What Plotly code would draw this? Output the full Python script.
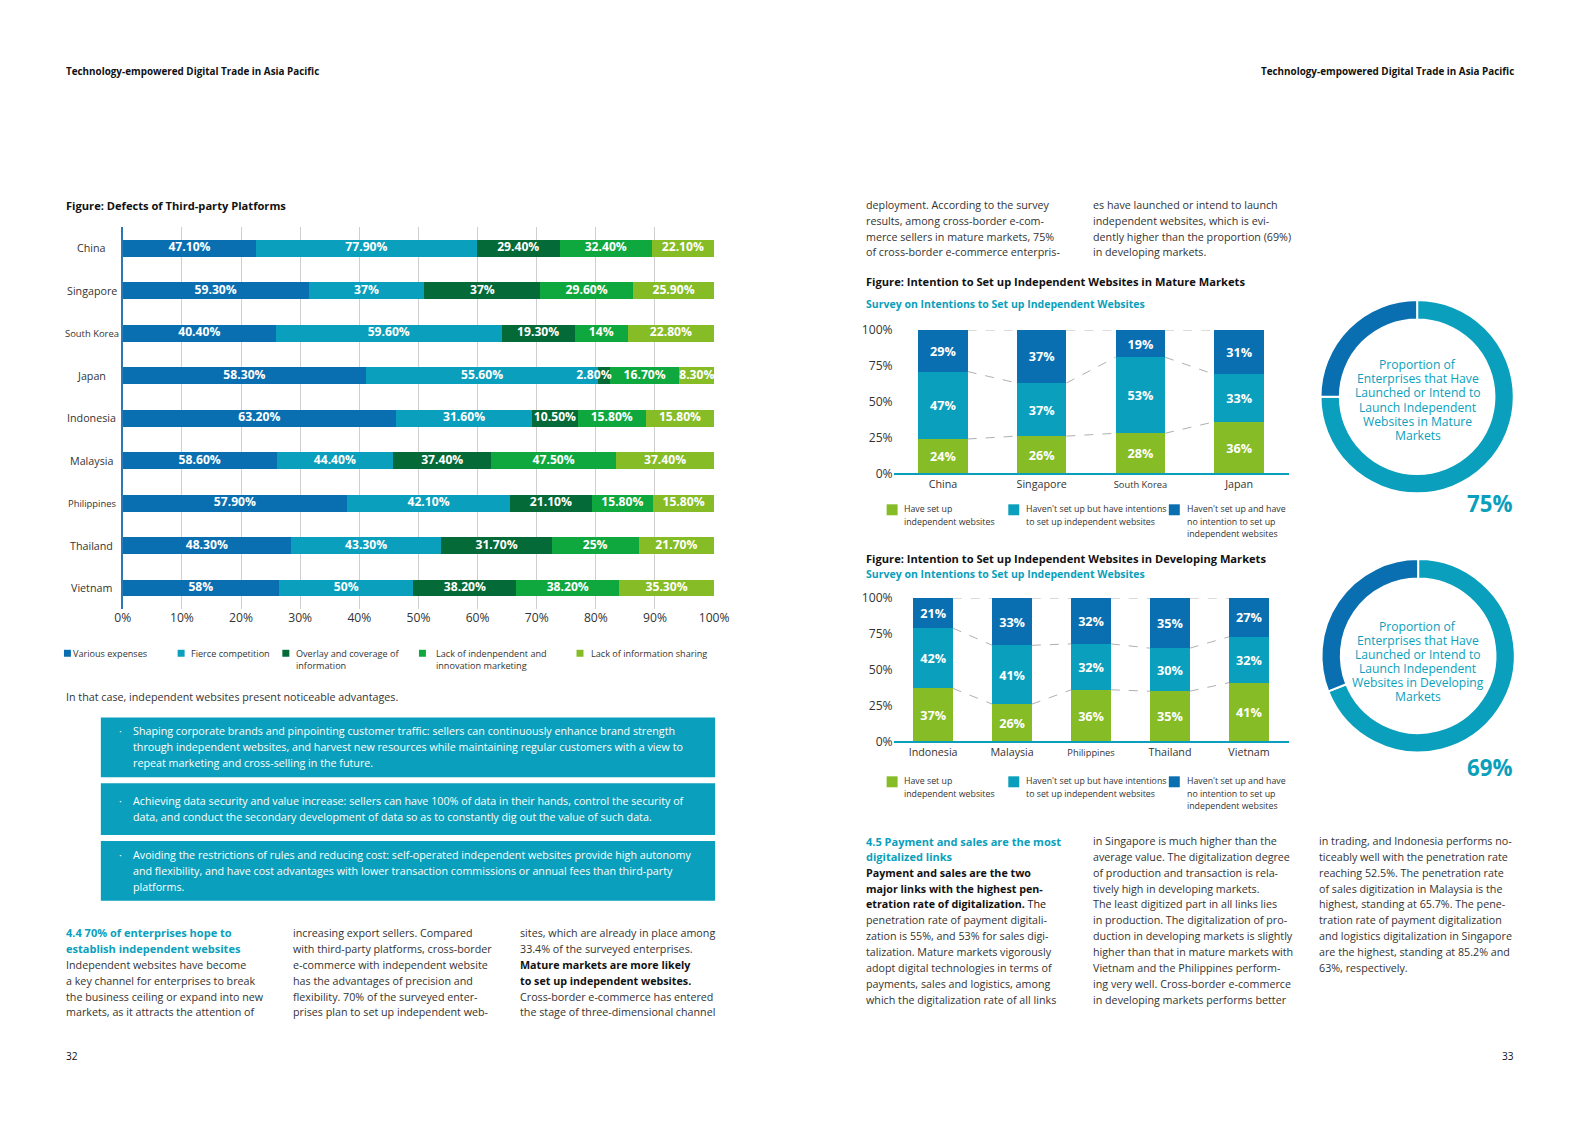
import numpy as np
import plotly.graph_objects as go

# page size; the browser body keeps its default 8px margin round the figure
PW, PH = 1587, 1122
M = 8
FW, FH = PW - 2 * M, 1100
K = 1.012          # layout measurements were taken at 0.988 scale
FONT = "Open Sans"

# ---------------- data ----------------
countries_h = ["China", "Singapore", "South Korea", "Japan", "Indonesia",
               "Malaysia", "Philippines", "Thailand", "Vietnam"]
various_expenses = [47.1, 59.3, 40.4, 58.3, 63.2, 58.6, 57.9, 48.3, 58]
fierce_competition = [77.9, 37, 59.6, 55.6, 31.6, 44.4, 42.1, 43.3, 50]
overlay_coverage = [29.4, 37, 19.3, 2.8, 10.5, 37.4, 21.1, 31.7, 38.2]
lack_independent = [32.4, 29.6, 14, 16.7, 15.8, 47.5, 15.8, 25, 38.2]
lack_sharing = [22.1, 25.9, 22.8, 8.3, 15.8, 37.4, 15.8, 21.7, 35.3]
h_series_names = ["Various expenses", "Fierce competition",
                  "Overlay and coverage of<br>information",
                  "Lack of indenpendent and<br>innovation marketing",
                  "Lack of information sharing"]
h_ticks = [0, 10, 20, 30, 40, 50, 60, 70, 80, 90, 100]

mature_markets = ["China", "Singapore", "South Korea", "Japan"]
mature_have = [24, 26, 28, 36]
mature_intend = [47, 37, 53, 33]
mature_no = [29, 37, 19, 31]

developing_markets = ["Indonesia", "Malaysia", "Philippines", "Thailand", "Vietnam"]
developing_have = [37, 26, 36, 35, 41]
developing_intend = [42, 41, 32, 30, 32]
developing_no = [21, 33, 32, 35, 27]
v_series_names = ["Have set up<br>independent websites",
                  "Haven't set up but have intentions<br>to set up independent websites",
                  "Haven't set up and have<br>no intention to set up<br>independent websites"]
v_ticks = [0, 25, 50, 75, 100]

mature_share = [75, 25]
developing_share = [69, 31]
share_labels = ["Launched or intend to launch", "No intention"]

# ---------------- colours ----------------
C_BLUE = "#0a6fb0"
C_TEAL = "#0a9fbc"
C_DKGREEN = "#046a38"
C_GREEN = "#0fa83e"
C_LTGREEN = "#86bc25"
TXT = "#333333"

h_colors = [C_BLUE, C_TEAL, C_DKGREEN, C_GREEN, C_LTGREEN]
v_colors = [C_LTGREEN, C_TEAL, C_BLUE]


def fx(x):
    return (K * x - M) / FW


def fy(y):
    return 1 - (K * y - M) / FH


def fs(s):
    return round(s * K, 2)


def fmt(v):
    return f"{int(v)}%" if float(v).is_integer() else f"{v:.2f}%"


annotations = []
shapes = []


def txt(x, y, s, size=10.5, color=TXT, anchor="left", family=FONT):
    annotations.append(dict(x=fx(x), y=fy(y), xref="paper", yref="paper", text=s,
                            showarrow=False, xanchor=anchor, yanchor="middle",
                            align=anchor, font=dict(size=fs(size), color=color, family=family)))


def rect(x0, y0, x1, y1, color):
    shapes.append(dict(type="rect", xref="paper", yref="paper", x0=fx(x0), x1=fx(x1),
                       y0=fy(y1), y1=fy(y0), fillcolor=color, line=dict(width=0),
                       layer="below"))


def small(label):
    if label in ("South Korea", "Philippines"):
        return f"<span style='font-size:{fs(9.2)}px'>{label}</span>"
    return label


fig = go.Figure()

# ---------------- horizontal stacked chart ----------------
h_values = [various_expenses, fierce_competition, overlay_coverage, lack_independent, lack_sharing]
h_arr = np.array(h_values, dtype=float)
shares = h_arr / h_arr.sum(axis=0) * 100          # same normalisation as barnorm="percent"
ends = np.cumsum(shares, axis=0)
starts = ends - shares

for name, vals, col in zip(h_series_names, h_values, h_colors):
    fig.add_trace(go.Bar(
        y=countries_h, x=vals, orientation="h", name=name,
        marker=dict(color=col, line=dict(width=0)), width=0.4,
        textposition="none", xaxis="x", yaxis="y", showlegend=False, cliponaxis=False))

# value labels drawn on top of all segments
lab_x, lab_y, lab_t, lab_pos = [], [], [], []
for s_i, vals in enumerate(h_values):
    for c_i, v in enumerate(vals):
        lab_t.append(fmt(v))
        lab_y.append(countries_h[c_i])
        if shares[s_i, c_i] < 3:      # too narrow: label ends at the segment's end
            lab_x.append(ends[s_i, c_i] + 0.3)
            lab_pos.append("middle left")
        else:
            lab_x.append((starts[s_i, c_i] + ends[s_i, c_i]) / 2)
            lab_pos.append("middle center")
fig.add_trace(go.Scatter(x=lab_x, y=lab_y, text=lab_t, mode="text", textposition=lab_pos,
                         textfont=dict(color="white", size=fs(12), family=FONT, weight="bold"),
                         xaxis="x", yaxis="y", showlegend=False, hoverinfo="skip", cliponaxis=False))

for c in countries_h:
    size = 9.3 if c in ("South Korea", "Philippines") else 10.6
    annotations.append(dict(x=fx(84), y=c, xref="paper", yref="y", text=c, showarrow=False,
                            xanchor="center", yanchor="middle",
                            font=dict(size=fs(size), color=TXT, family=FONT)))


# ---------------- vertical stacked charts ----------------
def add_vertical(markets, have, intend, no, xa, ya):
    layers = [have, intend, no]
    for name, vals, col in zip(v_series_names, layers, v_colors):
        fig.add_trace(go.Bar(
            x=list(range(len(markets))), y=vals, name=name, width=0.5,
            marker=dict(color=col, line=dict(width=0)),
            text=[f"{v}%" for v in vals], textposition="inside", insidetextanchor="middle",
            textangle=0, constraintext="none",
            textfont=dict(color="white", size=fs(12.5), family=FONT, weight="bold"),
            xaxis=xa, yaxis=ya, showlegend=False, cliponaxis=False))
    cum = np.cumsum(np.array(layers, dtype=float), axis=0)
    lx, ly = [], []
    for lvl in cum:
        for i in range(len(markets) - 1):
            lx += [i + 0.25, i + 0.75, None]
            ly += [lvl[i], lvl[i + 1], None]
    fig.add_trace(go.Scatter(x=lx, y=ly, mode="lines", xaxis=xa, yaxis=ya,
                             line=dict(color="#9a9a9a", width=0.8, dash="dash"),
                             showlegend=False, hoverinfo="skip", cliponaxis=False))


add_vertical(mature_markets, mature_have, mature_intend, mature_no, "x2", "y2")
add_vertical(developing_markets, developing_have, developing_intend, developing_no, "x3", "y3")

# ---------------- donuts ----------------
for vals, domx, domy in ((mature_share, (1316, 1510), (292, 486)),
                         (developing_share, (1317, 1511), (552, 746))):
    fig.add_trace(go.Pie(values=vals, labels=share_labels, hole=0.8, sort=False,
                         direction="clockwise", rotation=0, textinfo="none",
                         marker=dict(colors=[C_TEAL, C_BLUE], line=dict(color="white", width=2)),
                         domain=dict(x=[fx(domx[0]), fx(domx[1])], y=[fy(domy[1]), fy(domy[0])]),
                         showlegend=False, hoverinfo="label+percent"))

# ---------------- text ----------------
HEAD = "<b>Technology-empowered Digital Trade in Asia Pacific</b>"
txt(56, 62, HEAD, size=9.75, color="#111")
txt(1512, 62, HEAD, size=9.75, color="#111", anchor="right")
txt(56, 1051, "32", size=10, color="#111")
txt(1512, 1051, "33", size=10, color="#111", anchor="right")

txt(56, 197, "<b>Figure: Defects of Third-party Platforms</b>", size=11, color="#111")

# horizontal legend
leg_pos = [(56, 63), (170, 181), (275, 287), (412, 427), (570, 583)]
for (sx, tx_), name, col in zip(leg_pos, h_series_names, h_colors):
    rect(sx, 643, sx + 7, 650, col)
    for k, ln in enumerate(name.split("<br>")):
        txt(tx_, 647 + 12 * k, ln, size=9)

txt(56, 690, "In that case, independent websites present noticeable advantages.", size=10.6)

# teal boxes
boxes = [
    (711, 771, ["Shaping corporate brands and pinpointing customer traffic: sellers can continuously enhance brand strength",
                "through independent websites, and harvest new resources while maintaining regular customers with a view to",
                "repeat marketing and cross-selling in the future."]),
    (777, 829, ["Achieving data security and value increase: sellers can have 100% of data in their hands, control the security of",
                "data, and conduct the secondary development of data so as to constantly dig out the value of such data."]),
    (835, 895, ["Avoiding the restrictions of rules and reducing cost: self-operated independent websites provide high autonomy",
                "and flexibility, and have cost advantages with lower transaction commissions or annual fees than third-party",
                "platforms."]),
]
for y0, y1, lines in boxes:
    rect(93, y0, 709, y1, C_TEAL)
    ystart = y0 + 14 if len(lines) == 3 else y0 + 18
    txt(109, ystart, "·", size=10.5, color="white")
    for k, ln in enumerate(lines):
        txt(123, ystart + 16 * k, ln, size=10.6, color="white")

# bottom-left columns
TEALH = C_TEAL
col_lines_left = [
    (56, [("<b>4.4 70% of enterprises hope to</b>", TEALH), ("<b>establish independent websites</b>", TEALH),
          ("Independent websites have become", TXT), ("a key channel for enterprises to break", TXT),
          ("the business ceiling or expand into new", TXT), ("markets, as it attracts the attention of", TXT)]),
    (284, [("increasing export sellers. Compared", TXT), ("with third-party platforms, cross-border", TXT),
           ("e-commerce with independent website", TXT), ("has the advantages of precision and", TXT),
           ("flexibility. 70% of the surveyed enter-", TXT), ("prises plan to set up independent web-", TXT)]),
    (511, [("sites, which are already in place among", TXT), ("33.4% of the surveyed enterprises.", TXT),
           ("<b>Mature markets are more likely</b>", "#111"), ("<b>to set up independent websites.</b>", "#111"),
           ("Cross-border e-commerce has entered", TXT), ("the stage of three-dimensional channel", TXT)]),
]
for x, lines in col_lines_left:
    for k, (ln, col) in enumerate(lines):
        size = 10.9 if col == TEALH else 10.6
        txt(x, 927 + 16 * k, ln, size=size, color=col)

# right page top text
top_cols = [
    (858, ["deployment. According to the survey", "results, among cross-border e-com-",
           "merce sellers in mature markets, 75%", "of cross-border e-commerce enterpris-"]),
    (1086, ["es have launched or intend to launch", "independent websites, which is evi-",
            "dently higher than the proportion (69%)", "in developing markets."]),
]
for x, lines in top_cols:
    for k, ln in enumerate(lines):
        txt(x, 197 + 15.7 * k, ln, size=10.6)

txt(858, 273, "<b>Figure: Intention to Set up Independent Websites in Mature Markets</b>", size=11, color="#111")
txt(858, 296, "<b>Survey on Intentions to Set up Independent Websites</b>", size=10.4, color=C_TEAL)
txt(858, 551, "<b>Figure: Intention to Set up Independent Websites in Developing Markets</b>", size=11, color="#111")
txt(858, 567, "<b>Survey on Intentions to Set up Independent Websites</b>", size=10.4, color=C_TEAL)

# vertical legends
for base in (502, 775):
    for (sx, tx_), name, col in zip([(881, 896), (1003, 1019), (1164, 1180)], v_series_names, v_colors):
        rect(sx, base - 5, sx + 11, base + 6, col)
        for k, ln in enumerate(name.split("<br>")):
            txt(tx_, base + 12.5 * k, ln, size=8.7)

# donut texts
donut_text = [
    (392.3, ["Proportion of", "Enterprises that Have", "Launched or Intend to",
             "Launch Independent", "Websites in Mature", "Markets"]),
    (654.5, ["Proportion of", "Enterprises that Have", "Launched or Intend to",
             "Launch Independent", "Websites in Developing", "Markets"]),
]
for yc, lines in donut_text:
    for k, ln in enumerate(lines):
        txt(1413.5, yc + (k - 2.5) * 14.1, ln, size=12, color=C_TEAL, anchor="center")
txt(1511, 496, f"<b>{mature_share[0]}%</b>", size=22, color=C_TEAL, anchor="right")
txt(1511, 761, f"<b>{developing_share[0]}%</b>", size=22, color=C_TEAL, anchor="right")

# bottom-right columns
right_cols = [
    (858, [("<b>4.5 Payment and sales are the most</b>", TEALH), ("<b>digitalized links</b>", TEALH),
           ("<b>Payment and sales are the two</b>", "#111"), ("<b>major links with the highest pen-</b>", "#111"),
           ("<b>etration rate of digitalization.</b> The", "#111"),
           ("penetration rate of payment digitali-", TXT), ("zation is 55%, and 53% for sales digi-", TXT),
           ("talization. Mature markets vigorously", TXT), ("adopt digital technologies in terms of", TXT),
           ("payments, sales and logistics, among", TXT), ("which the digitalization rate of all links", TXT)]),
    (1086, [("in Singapore is much higher than the", TXT), ("average value. The digitalization degree", TXT),
            ("of production and transaction is rela-", TXT), ("tively high in developing markets.", TXT),
            ("The least digitized part in all links lies", TXT), ("in production. The digitalization of pro-", TXT),
            ("duction in developing markets is slightly", TXT), ("higher than that in mature markets with", TXT),
            ("Vietnam and the Philippines perform-", TXT), ("ing very well. Cross-border e-commerce", TXT),
            ("in developing markets performs better", TXT)]),
    (1313, [("in trading, and Indonesia performs no-", TXT), ("ticeably well with the penetration rate", TXT),
            ("reaching 52.5%. The penetration rate", TXT), ("of sales digitization in Malaysia is the", TXT),
            ("highest, standing at 65.7%. The pene-", TXT), ("tration rate of payment digitalization", TXT),
            ("and logistics digitalization in Singapore", TXT), ("are the highest, standing at 85.2% and", TXT),
            ("63%, respectively.", TXT)]),
]
for x, lines in right_cols:
    for k, (ln, col) in enumerate(lines):
        size = 10.9 if col == TEALH else 10.6
        txt(x, 835 + 15.9 * k, ln, size=size, color=col)

# ---------------- layout ----------------
n = len(countries_h)
fig.update_layout(
    width=FW, height=FH, margin=dict(l=0, r=0, t=0, b=0),
    paper_bgcolor="white", plot_bgcolor="white",
    barmode="stack", barnorm="percent", bargap=0.6,
    font=dict(family=FONT, color=TXT),
    annotations=annotations, shapes=shapes,
    xaxis=dict(domain=[fx(115), fx(708)], anchor="y", range=[0, 100.001],
               tickvals=h_ticks, ticktext=[f"{t}%" for t in h_ticks],
               showgrid=True, gridcolor="#cfcfcf", gridwidth=1, zeroline=False,
               showline=False, tickfont=dict(size=fs(12), color=TXT)),
    yaxis=dict(domain=[fy(602.3), fy(218.7)], anchor="x", type="category",
               categoryorder="array", categoryarray=countries_h,
               range=[n - 0.5, -0.5], showticklabels=False, showgrid=False,
               showline=True, linecolor="#2b78b5", linewidth=1.5, zeroline=False),
    xaxis2=dict(domain=[fx(888), fx(1284)], anchor="y2", range=[-0.5, len(mature_markets) - 0.5],
                tickvals=list(range(len(mature_markets))), ticktext=[small(m) for m in mature_markets],
                showgrid=False, zeroline=False, showline=True, linecolor=C_TEAL, linewidth=2,
                tickfont=dict(size=fs(10.6), color=TXT)),
    yaxis2=dict(domain=[fy(466), fy(322)], anchor="x2", range=[0, 100],
                tickvals=v_ticks, ticktext=[f"{t}%" for t in v_ticks],
                showgrid=False, zeroline=False, showline=False,
                tickfont=dict(size=fs(12), color=TXT)),
    xaxis3=dict(domain=[fx(888), fx(1284)], anchor="y3", range=[-0.5, len(developing_markets) - 0.5],
                tickvals=list(range(len(developing_markets))), ticktext=[small(m) for m in developing_markets],
                showgrid=False, zeroline=False, showline=True, linecolor=C_TEAL, linewidth=2,
                tickfont=dict(size=fs(10.6), color=TXT)),
    yaxis3=dict(domain=[fy(735), fy(591)], anchor="x3", range=[0, 100],
                tickvals=v_ticks, ticktext=[f"{t}%" for t in v_ticks],
                showgrid=False, zeroline=False, showline=False,
                tickfont=dict(size=fs(12), color=TXT)),
)

fig.write_html("out.html", config={"displayModeBar": False})
